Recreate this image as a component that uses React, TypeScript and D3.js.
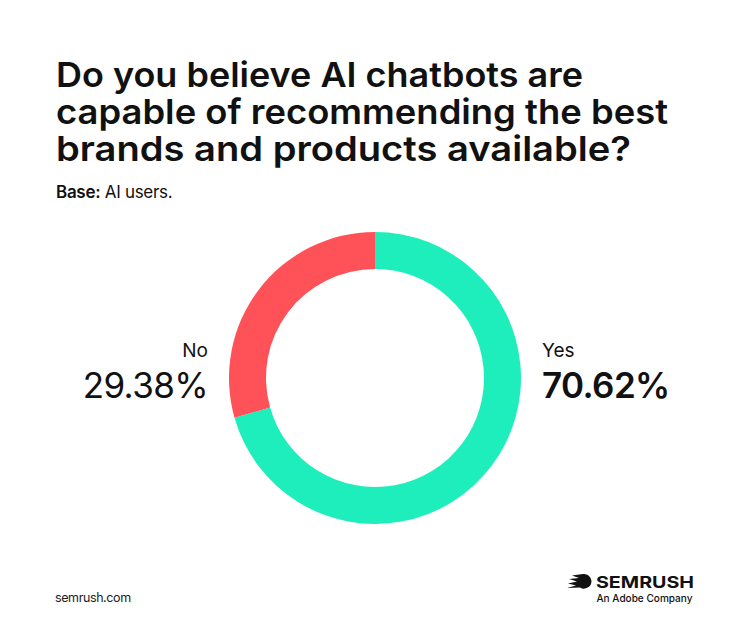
import * as d3 from 'd3';
import * as React from 'react';

const { useRef, useEffect } = React;

const width = 750;
const height = 622;

const titleLines = [
  'Do you believe AI chatbots are',
  'capable of recommending the best',
  'brands and products available?',
];
// rendered width of each title line in the original artwork
const titleWidths = [527, 612, 575];

const answers = ['Yes', 'No'];
const shares = [70.62, 29.38];
const colors = ['#1eeebc', '#ff5258'];

type Slice = { answer: string; share: number };

const slices: Slice[] = answers.map((answer, i) => ({ answer, share: shares[i] }));

const font = 'Inter, "Noto Sans", sans-serif';

export default () => {
  const rootRef = useRef<HTMLDivElement>(null);

  useEffect(() => {
    document.body.style.margin = '0';
    const rootEl = rootRef.current;
    if (!rootEl) {
      return;
    }
    d3.select(rootEl).selectAll('*').remove();

    const svg = d3
      .select(rootEl)
      .append('svg')
      .attr('width', width)
      .attr('height', height)
      .attr('viewBox', `0,0,${width},${height}`)
      .style('display', 'block')
      .style('background', '#fff');

    // title
    svg
      .append('g')
      .attr('font-family', font)
      .attr('font-size', 34.5)
      .attr('font-weight', 600)
      .attr('fill', '#111')
      .selectAll('text')
      .data(titleLines)
      .join('text')
      .attr('x', 56)
      .attr('y', (d, i) => 87 + i * 37)
      .attr('textLength', (d, i) => titleWidths[i])
      .attr('lengthAdjust', 'spacingAndGlyphs')
      .text(d => d);

    const base = svg
      .append('text')
      .attr('x', 56)
      .attr('y', 198)
      .attr('font-family', font)
      .attr('font-size', 17)
      .attr('fill', '#111')
      .attr('letter-spacing', -0.3);
    base.append('tspan').attr('font-weight', 600).text('Base:');
    base.append('tspan').attr('font-weight', 400).text(' AI users.');

    // donut
    const cx = 375;
    const cy = 378;
    const pie = d3
      .pie<Slice>()
      .sort(null)
      .value(d => d.share);
    const arc = d3
      .arc<d3.PieArcDatum<Slice>>()
      .innerRadius(109)
      .outerRadius(146);

    svg
      .append('g')
      .attr('transform', `translate(${cx},${cy})`)
      .selectAll('path')
      .data(pie(slices))
      .join('path')
      .attr('fill', (d, i) => colors[i])
      .attr('d', arc);

    // labels
    const fmt = (v: number) => `${v.toFixed(2)}%`;
    const labels = [
      { x: 542, anchor: 'start', weight: 600 },
      { x: 208, anchor: 'end', weight: 400 },
    ];
    slices.forEach((s, i) => {
      const l = labels[i];
      svg
        .append('text')
        .attr('x', l.x)
        .attr('y', 357)
        .attr('text-anchor', l.anchor)
        .attr('font-family', font)
        .attr('font-size', 19)
        .attr('font-weight', 400)
        .attr('fill', '#111')
        .text(s.answer);
      svg
        .append('text')
        .attr('x', l.x)
        .attr('y', 398)
        .attr('text-anchor', l.anchor)
        .attr('font-family', font)
        .attr('font-size', 35)
        .attr('font-weight', l.weight)
        .attr('letter-spacing', -0.6)
        .attr('fill', '#111')
        .text(fmt(s.share));
    });

    // footer
    svg
      .append('text')
      .attr('x', 55)
      .attr('y', 602)
      .attr('font-family', font)
      .attr('font-size', 12.5)
      .attr('fill', '#222')
      .attr('letter-spacing', -0.4)
      .text('semrush.com');

    const logo = svg.append('g').attr('fill', '#111');
    // fireball mark
    logo
      .append('path')
      .attr(
        'd',
        'M591.5,581 a7.5,7.5 0 0 1 -11.5,6.4 L567,588 L576,585.5 L568,583.5 L577,581.5 L569,579 L579,578 L572,575.5 L583,574 a7.5,7.5 0 0 1 8.5,7 Z',
      );
    logo
      .append('text')
      .attr('x', 596)
      .attr('y', 587.5)
      .attr('font-family', font)
      .attr('font-size', 16.5)
      .attr('font-weight', 700)
      .attr('textLength', 98)
      .attr('lengthAdjust', 'spacingAndGlyphs')
      .text('SEMRUSH');
    logo
      .append('text')
      .attr('x', 596.5)
      .attr('y', 602)
      .attr('font-family', font)
      .attr('font-size', 10.5)
      .attr('font-weight', 500)
      .attr('textLength', 96)
      .attr('lengthAdjust', 'spacingAndGlyphs')
      .text('An Adobe Company');
  }, []);

  return <div ref={rootRef} />;
};
